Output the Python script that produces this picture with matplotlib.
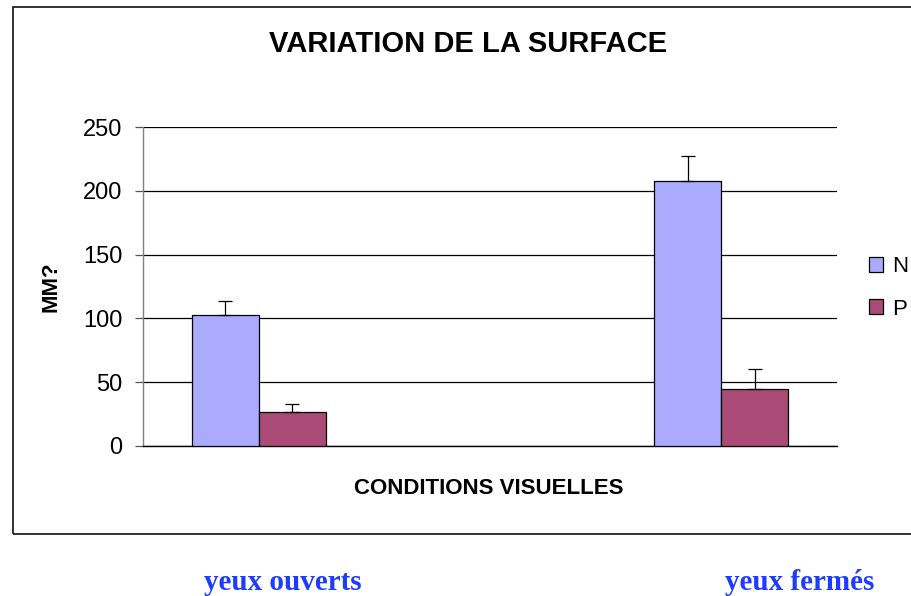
import numpy as np
import matplotlib
matplotlib.use("Agg")
import matplotlib.pyplot as plt
from matplotlib.patches import Rectangle

plt.rcParams['font.family'] = ['Liberation Sans', 'DejaVu Sans']

# ---- data ----
categories = ['yeux ouverts', '', 'yeux fermés']
series_names = ['N', 'P']
n_values = [103, np.nan, 208]
p_values = [26.5, np.nan, 45]
n_errors = [11, np.nan, 19]
p_errors = [6.3, np.nan, 15.5]
y_ticks = [0, 50, 100, 150, 200, 250]
title = 'VARIATION DE LA SURFACE'
x_title = 'CONDITIONS VISUELLES'
y_title = 'MM?'

W, H = 911, 596
fig = plt.figure(figsize=(W / 100, H / 100), dpi=100)
ax = fig.add_axes([143 / W, 1 - 446 / H, (837 - 143) / W, (446 - 127) / H])

x = np.arange(len(categories))
w = 0.29
n_color = '#AAAAFF'
p_color = '#A94A77'
zeros = [0] * len(categories)
ax.bar(x - w / 2, n_values, w, color=n_color, edgecolor='black', linewidth=0.9,
       yerr=[zeros, n_errors], capsize=5,
       error_kw=dict(ecolor='black', elinewidth=0.9, capthick=0.9), label=series_names[0], zorder=3)
ax.bar(x + w / 2, p_values, w, color=p_color, edgecolor='black', linewidth=0.9,
       yerr=[zeros, p_errors], capsize=5,
       error_kw=dict(ecolor='black', elinewidth=0.9, capthick=0.9), label=series_names[1], zorder=3)

ax.set_xlim(-0.5, len(categories) - 0.5)
ax.set_ylim(0, 250)
ax.set_yticks(y_ticks)
ax.set_xticks([])
ax.yaxis.grid(True, color='black', linewidth=0.9)
ax.set_axisbelow(True)
for s in ['top', 'right']:
    ax.spines[s].set_visible(False)
ax.spines['left'].set_color('#808080')
ax.spines['left'].set_linewidth(1.0)
ax.spines['bottom'].set_color('black')
ax.spines['bottom'].set_linewidth(1.0)
ax.tick_params(axis='y', direction='out', length=6, width=0.9, color='#555555',
               pad=9, labelsize=17)

ax.set_ylabel(y_title, fontsize=16, fontweight='bold')
ax.yaxis.set_label_coords((62 - 143) / (837 - 143), 0.5)

fig.text(468 / W, 1 - 52 / H, title, fontsize=21, fontweight='bold',
         ha='center', va='baseline')
fig.text(489 / W, 1 - 488 / H, x_title, fontsize=16, fontweight='bold',
         ha='center', va='center')

leg = fig.legend(loc='center left', bbox_to_anchor=(869 / W, 1 - 288 / H),
                 frameon=False, fontsize=16, handlelength=0.65, handleheight=0.65,
                 handletextpad=0.4, labelspacing=0.95, borderpad=0, borderaxespad=0)

# chart frame
fig.add_artist(Rectangle((13 / W, 1 - 534 / H), 2.0, (534 - 7) / H,
                         transform=fig.transFigure, fill=False,
                         edgecolor='#222222', linewidth=1.3, clip_on=False))

# category labels below the frame
label_x = [282.5, 800]
shown = [c for c in categories if c]
for cx, lab in zip(label_x, shown):
    fig.text(cx / W, 1 - 582 / H, lab, fontsize=21, fontweight='bold',
             family=['Liberation Serif', 'DejaVu Serif'], color='#1E3CFF',
             ha='center', va='center')

fig.savefig('out.png', dpi=100)
